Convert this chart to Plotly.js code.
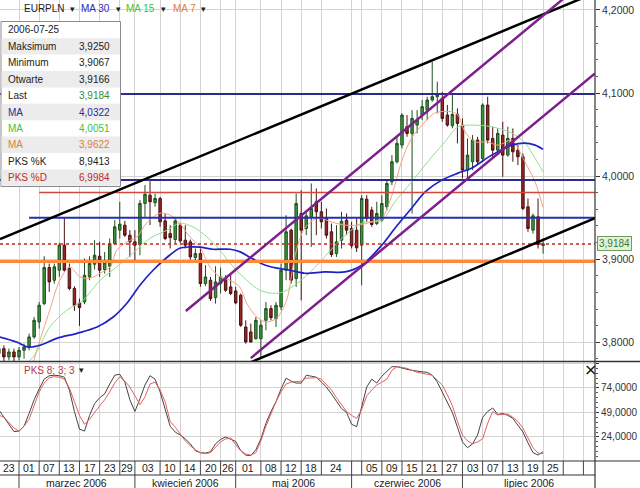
<!DOCTYPE html>
<html><head><meta charset="utf-8">
<script src="https://cdn.plot.ly/plotly-3.0.1.min.js"></script>
<style>html,body{margin:0;padding:0;background:#fff;}#chart{width:640px;height:488px;}</style>
</head><body><div id="chart"></div>
<script>
// ---- candle data (trading days 2006-02-23 .. 2006-07-25) ----
const openP = [3.7864,3.7924,3.7824,3.7884,3.7824,3.7904,3.7944,3.8065,3.8245,3.8466,3.8900,3.8747,3.8868,3.9169,3.8888,3.8647,3.8474,3.8486,3.8787,3.8940,3.9036,3.8876,3.8916,3.9189,3.9350,3.9410,3.9289,3.9209,3.9181,3.9671,3.9771,3.9679,3.9731,3.9462,3.9309,3.9237,3.9410,3.9229,3.9209,3.9020,3.9068,3.8707,3.8747,3.8538,3.8707,3.8767,3.8667,3.8619,3.8567,3.8185,3.8125,3.8044,3.8044,3.8265,3.8406,3.8285,3.8426,3.8868,3.9350,3.8767,3.9550,3.9370,3.9510,3.9691,3.9571,3.9490,3.9330,3.9068,3.9229,3.9470,3.9370,3.9350,3.9169,3.9723,3.9591,3.9430,3.9470,3.9631,3.9932,4.0173,4.0374,4.0595,4.0514,4.0615,4.0735,4.0795,4.0916,4.0956,4.0936,4.0735,4.0607,4.0743,4.0615,4.0073,4.0173,4.0434,4.0213,4.0856,4.0454,4.0313,4.0494,4.0253,4.0454,4.0313,4.0233,3.9631,3.9350,3.9510,3.9166];
const highP = [3.7984,3.7964,3.7924,3.7924,3.7944,3.7984,3.8105,3.8305,3.8486,3.9036,3.8948,3.8948,3.9197,3.9498,3.8948,3.8675,3.8526,3.9008,3.9036,3.9229,3.9209,3.9088,3.9249,3.9470,3.9691,3.9462,3.9350,3.9350,3.9711,3.9892,3.9940,3.9791,3.9751,3.9550,3.9410,3.9510,3.9438,3.9410,3.9237,3.9129,3.9149,3.8928,3.8787,3.8916,3.8900,3.8807,3.8820,3.8667,3.8587,3.8265,3.8225,3.8305,3.8265,3.8486,3.8446,3.8486,3.8948,3.9530,3.9370,3.9791,3.9832,3.9571,3.9912,3.9852,3.9691,3.9611,3.9430,3.9410,3.9571,3.9550,3.9450,3.9490,3.9771,3.9771,3.9631,3.9691,3.9771,3.9952,4.0253,4.0474,4.0755,4.0735,4.0795,4.0795,4.0916,4.0956,4.1378,4.1137,4.1016,4.0856,4.0996,4.0815,4.0695,4.0454,4.0494,4.0474,4.0876,4.0956,4.0595,4.0575,4.0655,4.0595,4.0575,4.0374,4.0273,3.9731,3.9550,3.9731,3.9250];
const lowP = [3.7783,3.7763,3.7783,3.7763,3.7783,3.7803,3.7904,3.8044,3.8165,3.8446,3.8607,3.8707,3.8787,3.8848,3.8627,3.8378,3.8197,3.8458,3.8747,3.8876,3.8787,3.8828,3.8787,3.9169,3.9249,3.9269,3.9028,3.8988,3.9048,3.9510,3.9410,3.9631,3.9390,3.9229,3.9129,3.9189,3.9197,3.9129,3.8996,3.8968,3.8667,3.8675,3.8498,3.8466,3.8587,3.8607,3.8567,3.8458,3.8185,3.7984,3.7996,3.8032,3.7803,3.8145,3.8265,3.8185,3.8386,3.8747,3.8707,3.8667,3.8506,3.9289,3.9149,3.9289,3.9370,3.9249,3.9028,3.9028,3.9129,3.9289,3.9129,3.9088,3.8687,3.9450,3.9390,3.9410,3.9450,3.9591,3.9892,4.0153,4.0334,4.0474,3.9550,4.0514,4.0675,4.0675,4.0896,4.0755,4.0655,4.0595,4.0575,4.0394,3.9972,3.9972,4.0073,4.0133,4.0173,4.0394,4.0213,4.0253,3.9992,4.0233,4.0173,4.0133,3.9591,3.9330,3.9309,3.9129,3.9067];
const closeP = [3.7924,3.7824,3.7884,3.7824,3.7904,3.7944,3.8065,3.8265,3.8446,3.8900,3.8727,3.8908,3.9169,3.8868,3.8647,3.8446,3.8418,3.8807,3.8948,3.9048,3.8868,3.8956,3.9189,3.9390,3.9422,3.9289,3.9209,3.9169,3.9671,3.9783,3.9691,3.9731,3.9450,3.9249,3.9261,3.9462,3.9221,3.9169,3.9028,3.9068,3.8707,3.8787,3.8526,3.8727,3.8787,3.8627,3.8587,3.8474,3.8205,3.8004,3.8004,3.8265,3.8205,3.8406,3.8297,3.8446,3.8868,3.9330,3.8747,3.9671,3.9350,3.9522,3.9611,3.9571,3.9450,3.9289,3.9056,3.9209,3.9458,3.9350,3.9161,3.9137,3.9731,3.9490,3.9418,3.9550,3.9671,3.9912,4.0173,4.0394,4.0735,4.0514,4.0695,4.0675,4.0836,4.0916,4.0956,4.0984,4.0695,4.0615,4.0743,4.0635,4.0073,4.0253,4.0434,4.0173,4.0856,4.0434,4.0313,4.0514,4.0253,4.0454,4.0293,4.0233,3.9611,3.9370,3.9522,3.9177,3.9184];

// ---- moving averages (x in trading-day index) ----
const ma30X = [0.2,3.5,5.8,8.2,11.5,15.5,19.5,22.7,25.4,28,30.6,33.4,35.9,37.9,39.9,42.5,45.9,47.9,49.8,52.4,55.2,57.8,60.7,64.7,68.7,72,76,78.6,81.9,84.6,87.9,91.1,93.8,97.8,101.8,104.4,106.4,108];
const ma30Y = [3.8064,3.8004,3.7943,3.7964,3.8048,3.8108,3.8184,3.8305,3.8470,3.8687,3.8867,3.9024,3.9133,3.9148,3.9145,3.9120,3.9120,3.9088,3.9024,3.8940,3.8892,3.8867,3.8831,3.8847,3.8847,3.8928,3.9169,3.9373,3.9614,3.9811,3.9952,4.0036,4.0096,4.0253,4.0373,4.0398,4.0373,4.0322];
const ma15X = [2,6.8,10.1,13.5,16.7,20.1,23.4,26.6,30,33.4,35.9,38.5,41.3,43.9,46.5,49.2,51.8,54.4,56.4,60,63.7,67.7,72,76,78.6,81.9,85.1,88.5,91.1,93.8,97.8,101.8,104.4,106.4,108];
const ma15Y = [3.7600,3.7823,3.8184,3.8386,3.8506,3.8747,3.8907,3.9072,3.9253,3.9349,3.9434,3.9389,3.9269,3.9108,3.8907,3.8747,3.8627,3.8590,3.8606,3.8747,3.8964,3.9229,3.9434,3.9470,3.9690,3.9931,4.0172,4.0413,4.0594,4.0614,4.0594,4.0518,4.0398,4.0217,4.0051];
const ma7X = [5,6.8,7.5,10.1,12.1,14.1,16.1,18.1,20.1,22.1,23.4,25.4,27.4,29.3,32,34,35.9,37.9,39.9,41.9,43.9,45.9,47.8,49.2,51.2,53.1,55.1,57.1,58.8,60.7,63.3,66,68.7,71.3,74,76,78,79.9,81.9,84.6,86.5,89.9,91.1,92.5,94.5,97,99,101.8,103,104.4,106.4,108];
const ma7Y = [3.7650,3.7763,3.7904,3.8386,3.8747,3.8907,3.8787,3.8771,3.8831,3.8907,3.9108,3.9208,3.9269,3.9434,3.9554,3.9530,3.9434,3.9269,3.9148,3.8907,3.8787,3.8747,3.8666,3.8470,3.8305,3.8245,3.8289,3.8506,3.9048,3.9373,3.9494,3.9449,3.9410,3.9410,3.9449,3.9494,3.9771,4.0172,4.0458,4.0654,4.0759,4.0775,4.0735,4.0534,4.0413,4.0413,4.0373,4.0434,4.0337,4.0172,3.9931,3.9622];

// ---- stochastic PKS 8;3;3 (per trading day) ----
const pksK = [51.6,44,36,29.5,30,35,48,62,73,83,86.5,87,86.5,85,72,50,32,30,46,58,64,68,78,87,88,80,62,50,63,77,86.5,83,70,52,35,29,26,22,17,10,8,7.6,9,17,21.5,24,22,19.5,10,5.5,5,11,22,38,50,60,73,84,81,79,79,87,86,85,80,75,68,60,53,49,37,34.5,55,75,83,79,86,91,95.7,95.7,94,93,92,91,90.5,90,87,80,70,60,49,34,19,13,17,26,44,50,53.6,47,48,46,43,36,29,18,8,5.6,8.9413];
const pksD = [46.4,44,39,33,30,35,42,55,70,79,84.5,85.5,85,83,74,60,46,37,42,49,55,62,70,79,85.5,81,75,66,57,65,78,80,72,60,40,34,26.5,20,15,11,8,7,8,13,19,22,23,16,10,6.5,5.6,8,20,35,48,60,70,78,80,80.4,81,84,84.3,84.5,83,78,72,64,57,50,46,43,52,66,72,77,80,83,92,95.7,95,94,92,90,89,88,87,82,77,67,56,40,26,20,17,19,22,38,50,46.5,47,47.5,44,40,33,23,13,7.6,6.9984];

// ---- drawn horizontal levels and trend lines ----
const hLevels = [4.0990, 3.9954, 3.9803, 3.9500, 3.9184, 3.8973];
const hStart  = [0.23, 0.23, 8, 6, 0.23, 0.23];
const hColors = ['#2b2b8c','#2b2b8c','#d2483c','#2430b4','#c4281f','#ff8a3c'];
const hWidths = [2, 2, 1.6, 2, 1.6, 3];
const hDash   = ['solid','solid','solid','solid','dot','solid'];
const blackTrendX = [[0.23, 118.3],[49.0, 118.3]];
const blackTrendY = [[3.9241, 4.2205],[3.7735, 3.9494]];
const purpleTrendX = [[37.1, 115.3],[50.0, 118.3]];
const purpleTrendY = [[3.8377, 4.2299],[3.7810, 4.1236]];

// ---- axis labels ----
const sepIdx = [0,4,8,12,16,20,24,27,32,36,40,44,47,52,56,60,64,70,72,76,80,84,88,92,96,100,104,108,112,116];
const dayLabels = ['23','01','07','13','17','23','29','03','10','14','20','26','01','08','12','18','24','','05','09','15','21','27','03','07','13','19','25','',''];
const monthSep = [4,27,47,70,92];
const monthLabels = ['marzec 2006','kwiecień 2006','maj 2006','czerwiec 2006','lipiec 2006'];
const xMin = 0.23, xMax = 118.3;

// ---- info box ----
const infoLabels = ['2006-07-25','Maksimum','Minimum','Otwarte','Last','MA','MA','MA','PKS %K','PKS %D'];
const infoValues = [null,3.9250,3.9067,3.9166,3.9184,4.0322,4.0051,3.9622,8.9413,6.9984];
const infoLabelColors = ['#222','#222','#222','#222','#222','#2a2a9a','#3cc43c','#e0803a','#222','#c02a2a'];
const infoValueColors = ['#222','#222','#222','#222','#3a8a3a','#2a2a9a','#3cc43c','#e0803a','#222','#c02a2a'];

const FONT = 'Liberation Sans, Arial, sans-serif';
const FS = 10;
const W = 595, H = 461; // plot area px
const py = p => (H - p) / H;   // pixel-from-top -> paper y
const px = p => p / W;         // pixel-from-left -> paper x
const fmt = v => v.toFixed(4).replace('.', ',');

const dayIdx = openP.map((_, i) => i);
const traces = [];

traces.push({
  type: 'candlestick', x: dayIdx, open: openP, high: highP, low: lowP, close: closeP,
  xaxis: 'x', yaxis: 'y', hoverinfo: 'skip', showlegend: false,
  increasing: {line: {color: '#1f4f1f', width: 1}, fillcolor: '#3a963a'},
  decreasing: {line: {color: '#4a1212', width: 1}, fillcolor: '#962626'}
});
[[ma15X, ma15Y, '#8fe08f', 1], [ma7X, ma7Y, '#f3a383', 1], [ma30X, ma30Y, '#1e22c8', 1.7]].forEach(m => {
  traces.push({type: 'scatter', mode: 'lines', x: m[0], y: m[1], xaxis: 'x', yaxis: 'y',
    line: {color: m[2], width: m[3], shape: 'spline', smoothing: 0.9}, hoverinfo: 'skip', showlegend: false});
});
hLevels.forEach((lv, k) => {
  traces.push({type: 'scatter', mode: 'lines', x: [hStart[k], xMax], y: [lv, lv], xaxis: 'x', yaxis: 'y',
    line: {color: hColors[k], width: hWidths[k], dash: hDash[k]}, hoverinfo: 'skip', showlegend: false});
});
blackTrendX.forEach((xs, k) => traces.push({type: 'scatter', mode: 'lines', x: xs, y: blackTrendY[k],
  line: {color: '#000', width: 2.5}, hoverinfo: 'skip', showlegend: false}));
purpleTrendX.forEach((xs, k) => traces.push({type: 'scatter', mode: 'lines', x: xs, y: purpleTrendY[k],
  line: {color: '#7d1f8c', width: 2.5}, hoverinfo: 'skip', showlegend: false}));
traces.push({type: 'scatter', mode: 'lines', x: dayIdx, y: pksK, xaxis: 'x2', yaxis: 'y2',
  line: {color: '#444', width: 1}, hoverinfo: 'skip', showlegend: false});
traces.push({type: 'scatter', mode: 'lines', x: dayIdx, y: pksD, xaxis: 'x2', yaxis: 'y2',
  line: {color: '#e06262', width: 1}, hoverinfo: 'skip', showlegend: false});

// ---- shapes ----
const shapes = [];
const line = (x0, y0, x1, y1, color, width, xref) => ({type: 'line', xref: xref || 'paper', yref: 'paper',
  x0, y0, x1, y1, line: {color, width}, layer: 'above'});
shapes.push(line(0, py(361.5), 640 / W, py(361.5), '#333', 1.5));
shapes.push(line(0, py(461), 640 / W, py(461), '#333', 1.2));
shapes.push(line(0, py(475), 1, py(475), '#333', 1));
shapes.push(line(1, py(488), 1, py(0), '#333', 1.2));
sepIdx.slice(1).forEach(s => shapes.push(line(s, py(461), s, py(475), '#444', 1, 'x')));
monthSep.forEach(s => shapes.push(line(s, py(475), s, py(488), '#444', 1, 'x')));
// info box
shapes.push({type: 'rect', xref: 'paper', yref: 'paper', x0: px(1), x1: px(120.5), y0: py(186.5), y1: py(21.5),
  fillcolor: '#fff', line: {color: '#8a8a8a', width: 1}, layer: 'above'});
infoLabels.forEach((_, k) => {
  if (k % 2 === 1) {
    const c = 30 + 16.4 * k;
    shapes.push({type: 'rect', xref: 'paper', yref: 'paper', x0: px(1.5), x1: px(120), y0: py(c + 8.2), y1: py(c - 8.2),
      fillcolor: '#ececec', line: {width: 0}, layer: 'above'});
  }
});

// ---- annotations ----
const ann = [];
const txt = (x, y, text, color, opts) => Object.assign({xref: 'paper', yref: 'paper', x, y, text, showarrow: false,
  xanchor: 'left', yanchor: 'middle', font: {family: FONT, size: FS, color}}, opts || {});
infoLabels.forEach((lab, k) => {
  const c = 30 + 16.4 * k;
  ann.push(txt(px(6), py(c), lab, infoLabelColors[k]));
  if (infoValues[k] !== null) ann.push(txt(px(112), py(c), fmt(infoValues[k]), infoValueColors[k], {xanchor: 'right'}));
});
[['EURPLN', 22, '#222'], ['▾', 68, '#222'], ['MA 30', 79, '#2a2ab4'], ['▾', 114, '#222'],
 ['MA 15', 124, '#3cc43c'], ['▾', 159, '#222'], ['MA 7', 171.5, '#e0803a'], ['▾', 199, '#222']].forEach(t => {
  ann.push(txt(px(t[1]), py(8.5), t[0], t[2], t[0] === '▾' ? {font: {family: 'DejaVu Sans', size: 9, color: t[2]}} : {}));
});
ann.push(txt(px(22), py(370), 'PKS 8; 3; 3', '#b83a3a'));
ann.push(txt(px(77), py(370), '▾', '#222', {font: {family: 'DejaVu Sans', size: 9, color: '#222'}}));
ann.push(txt(px(582), py(369), '×', '#111', {font: {family: 'DejaVu Sans', size: 16, color: '#111'}}));
ann.push({xref: 'paper', yref: 'y', x: px(597), y: closeP[closeP.length - 1], text: fmt(closeP[closeP.length - 1]),
  showarrow: false, xanchor: 'left', yanchor: 'middle', bgcolor: '#e4f1d8', bordercolor: '#6aa05a', borderwidth: 1,
  borderpad: 1, font: {family: FONT, size: FS, color: '#3c7a2c'}});
const dayPos = sepIdx.map((s, k) => k + 1 < sepIdx.length ? (s + sepIdx[k + 1]) / 2 : (s + xMax) / 2);
dayLabels.forEach((lab, k) => {
  if (lab) ann.push({xref: 'x', yref: 'paper', x: dayPos[k], y: py(468.5), text: lab, showarrow: false,
    xanchor: 'center', yanchor: 'middle', font: {family: FONT, size: FS + 0.5, color: '#222'}});
});
monthLabels.forEach((lab, k) => {
  const a = monthSep[k], b = k + 1 < monthSep.length ? monthSep[k + 1] : xMax;
  ann.push({xref: 'x', yref: 'paper', x: (a + b) / 2, y: py(482.5), text: lab, showarrow: false,
    xanchor: 'center', yanchor: 'middle', font: {family: FONT, size: FS + 0.5, color: '#222'}});
});

const gridC = '#d3d3d3';
const xCommon = {range: [xMin, xMax], tickmode: 'array', tickvals: sepIdx, showticklabels: false, ticks: '',
  showgrid: true, gridcolor: gridC, gridwidth: 1, zeroline: false, showline: false, fixedrange: true};
const layout = {
  width: 640, height: 488, margin: {l: 0, r: 45, t: 0, b: 27}, paper_bgcolor: '#fff', plot_bgcolor: '#fff',
  separators: ', ', showlegend: false, hovermode: false,
  font: {family: FONT, size: FS, color: '#333'},
  xaxis: Object.assign({anchor: 'y', domain: [0, 1], rangeslider: {visible: false}}, xCommon),
  xaxis2: Object.assign({anchor: 'y2', domain: [0, 1], matches: 'x'}, xCommon),
  yaxis: {domain: [py(361), 1], range: [3.7775, 4.2120], side: 'right', tickmode: 'array',
    tickvals: [3.8, 3.9, 4.0, 4.1, 4.2], tickformat: '.4f', ticks: 'outside', ticklen: 4, tickcolor: '#333',
    showgrid: true, gridcolor: gridC, zeroline: false, showline: false,
    minor: {ticks: 'outside', ticklen: 2, tickcolor: '#555', dtick: 0.02, tick0: 3.8, showgrid: false},
    tickfont: {family: FONT, size: 10.5, color: '#333'}},
  yaxis2: {domain: [0, py(362)], range: [-0.5, 100.5], side: 'right', tickmode: 'array',
    tickvals: [24, 49, 74, 99], ticktext: ['24,0000', '49,0000', '74,0000', ''], ticks: 'outside', ticklen: 3,
    tickcolor: '#333', showgrid: true, gridcolor: gridC, zeroline: false, showline: false,
    minor: {ticks: 'outside', ticklen: 2, tickcolor: '#555', dtick: 5, tick0: 24, showgrid: false},
    tickfont: {family: FONT, size: 10, color: '#333'}},
  shapes: shapes, annotations: ann
};
Plotly.newPlot('chart', traces, layout, {staticPlot: true, displayModeBar: false});
</script>
</body></html>
